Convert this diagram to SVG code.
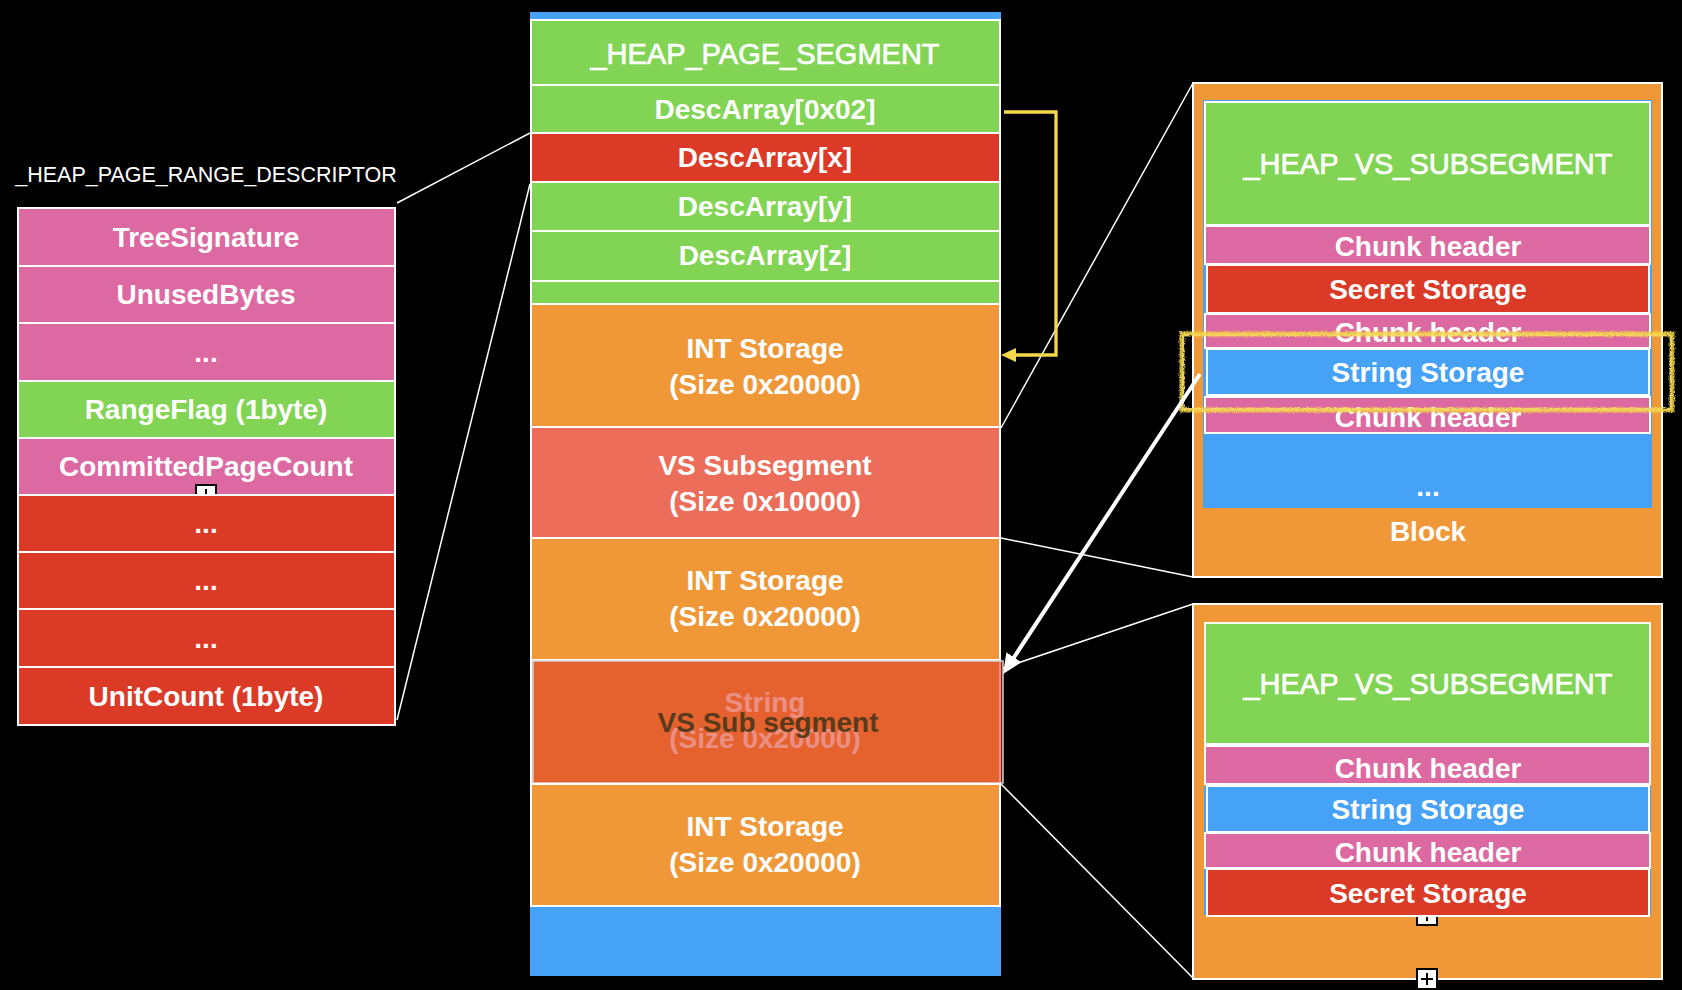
<svg xmlns="http://www.w3.org/2000/svg" width="1682" height="990" viewBox="0 0 1682 990">
<defs>
<style>
.c{stroke:#fff;stroke-width:2}
.g{fill:#82D454}.r{fill:#DB3A27}.p{fill:#DD69A2}.o{fill:#F09838}.b{fill:#46A2F7}.s{fill:#EC6E5A}
.t{font-family:"Liberation Sans",Arial,Helvetica,sans-serif;font-weight:bold;font-size:28px;fill:#fff;text-anchor:middle}
.h{font-family:"Liberation Sans",Arial,Helvetica,sans-serif;font-weight:normal;font-size:29px;fill:#fff;stroke:#fff;stroke-width:0.7;text-anchor:middle}
.ti{font-family:"Liberation Sans",Arial,Helvetica,sans-serif;font-weight:normal;font-size:21.5px;fill:#fff;text-anchor:middle}
.ln{stroke:#fff;stroke-width:1.5;fill:none}
.ic{fill:#fff;stroke:#000;stroke-width:2}
</style>
<marker id="ay" viewBox="0 0 15 14" refX="4" refY="7" markerWidth="15" markerHeight="14" markerUnits="userSpaceOnUse" orient="auto">
<path d="M0,0 L15,7 L0,14 z" fill="#F4D84A"/>
</marker>
<marker id="aw" viewBox="0 0 20 18" refX="8" refY="9" markerWidth="20" markerHeight="18" markerUnits="userSpaceOnUse" orient="auto">
<path d="M0,0 L20,9 L0,18 z" fill="#fff"/>
</marker>
<filter id="rough" x="-5%" y="-30%" width="110%" height="160%">
<feTurbulence type="fractalNoise" baseFrequency="0.7" numOctaves="2" seed="3" result="n"/>
<feDisplacementMap in="SourceGraphic" in2="n" scale="4" xChannelSelector="R" yChannelSelector="G"/>
</filter>
</defs>
<rect x="0" y="0" width="1682" height="990" fill="#000"/>

<g id="range-descriptor">
<text x="206" y="182" class="ti">_HEAP_PAGE_RANGE_DESCRIPTOR</text>
<rect x="18" y="208" width="377" height="517" fill="none" stroke="#fff" stroke-width="2"/>
<rect class="c p" x="18" y="208" width="377" height="58"/>
<text class="t" x="206" y="247">TreeSignature</text>
<rect class="c p" x="18" y="266" width="377" height="57"/>
<text class="t" x="206" y="304">UnusedBytes</text>
<rect class="c p" x="18" y="323" width="377" height="58"/>
<text class="t" x="206" y="362">...</text>
<rect class="c g" x="18" y="381" width="377" height="57"/>
<text class="t" x="206" y="419">RangeFlag (1byte)</text>
<rect class="c p" x="18" y="438" width="377" height="57"/>
<text class="t" x="206" y="476">CommittedPageCount</text>
<rect class="ic" x="196" y="485" width="20" height="18"/>
<line x1="206" y1="489" x2="206" y2="499" stroke="#000" stroke-width="2"/>
<rect class="c r" x="18" y="495" width="377" height="57"/>
<text class="t" x="206" y="533">...</text>
<rect class="c r" x="18" y="552" width="377" height="57"/>
<text class="t" x="206" y="590">...</text>
<rect class="c r" x="18" y="609" width="377" height="58"/>
<text class="t" x="206" y="648">...</text>
<rect class="c r" x="18" y="667" width="377" height="58"/>
<text class="t" x="206" y="706">UnitCount (1byte)</text>
</g>

<g id="page-segment">
<rect class="b" x="530" y="12" width="471" height="964"/>
<rect class="c g" x="531" y="20" width="469" height="65"/>
<text class="h" x="765" y="64">_HEAP_PAGE_SEGMENT</text>
<rect class="c g" x="531" y="85" width="469" height="48"/>
<text class="t" x="765" y="119">DescArray[0x02]</text>
<rect class="c r" x="531" y="133" width="469" height="49"/>
<text class="t" x="765" y="167">DescArray[x]</text>
<rect class="c g" x="531" y="182" width="469" height="49"/>
<text class="t" x="765" y="216">DescArray[y]</text>
<rect class="c g" x="531" y="231" width="469" height="50"/>
<text class="t" x="765" y="265">DescArray[z]</text>
<rect class="c g" x="531" y="281" width="469" height="23"/>
<rect class="c o" x="531" y="304" width="469" height="123"/>
<text class="t" x="765" y="358">INT Storage</text>
<text class="t" x="765" y="394">(Size 0x20000)</text>
<rect class="c s" x="531" y="427" width="469" height="111"/>
<text class="t" x="765" y="475">VS Subsegment</text>
<text class="t" x="765" y="511">(Size 0x10000)</text>
<rect class="c o" x="531" y="538" width="469" height="122"/>
<text class="t" x="765" y="590">INT Storage</text>
<text class="t" x="765" y="626">(Size 0x20000)</text>
<rect class="c o" x="531" y="660" width="469" height="124"/>
<text class="t" x="765" y="712">String</text>
<text class="t" x="765" y="748">(Size 0x20000)</text>
<rect x="533" y="661" width="470" height="122" fill="#DB3A27" fill-opacity="0.57" stroke="#d4d4d4" stroke-width="1.5"/>
<text class="t" x="768" y="732" style="fill:#5A3A1C">VS Sub segment</text>
<rect class="c o" x="531" y="784" width="469" height="122"/>
<text class="t" x="765" y="836">INT Storage</text>
<text class="t" x="765" y="872">(Size 0x20000)</text>
</g>

<g id="vs-subsegment-1">
<rect class="c o" x="1193" y="83" width="469" height="494"/>
<rect class="b" x="1203" y="100" width="449" height="408"/>
<rect class="c g" x="1205" y="102" width="445" height="123"/>
<text class="h" x="1428" y="174">_HEAP_VS_SUBSEGMENT</text>
<rect class="c p" x="1205" y="226" width="445" height="38"/>
<text class="t" x="1428" y="256">Chunk header</text>
<rect class="c r" x="1207" y="265" width="442" height="48"/>
<text class="t" x="1428" y="299">Secret Storage</text>
<rect class="c p" x="1205" y="314" width="445" height="34"/>
<text class="t" x="1428" y="342">Chunk header</text>
<rect class="c b" x="1207" y="349" width="442" height="46"/>
<text class="t" x="1428" y="382">String Storage</text>
<rect class="c p" x="1205" y="397" width="445" height="36"/>
<text class="t" x="1428" y="427">Chunk header</text>
<text class="t" x="1428" y="496">...</text>
<text class="t" x="1428" y="541">Block</text>
</g>

<g id="vs-subsegment-2">
<rect class="c o" x="1193" y="604" width="469" height="375"/>
<rect class="b" x="1204" y="786" width="447" height="129"/>
<rect class="c g" x="1205" y="623" width="445" height="121"/>
<text class="h" x="1428" y="694">_HEAP_VS_SUBSEGMENT</text>
<rect class="c p" x="1205" y="746" width="445" height="38"/>
<text class="t" x="1428" y="778">Chunk header</text>
<rect class="c b" x="1207" y="786" width="442" height="46"/>
<text class="t" x="1428" y="819">String Storage</text>
<rect class="c p" x="1205" y="833" width="445" height="35"/>
<text class="t" x="1428" y="862">Chunk header</text>
<rect class="ic" x="1417" y="905" width="20" height="20"/>
<line x1="1427" y1="909" x2="1427" y2="921" stroke="#000" stroke-width="2"/>
<rect class="c r" x="1207" y="869" width="442" height="47"/>
<text class="t" x="1428" y="903">Secret Storage</text>
<rect class="ic" x="1417" y="969" width="20" height="20"/>
<path d="M1421,979 H1433 M1427,973 V985" stroke="#000" stroke-width="2"/>
</g>

<g id="highlight" filter="url(#rough)">
<rect x="1182" y="334" width="490" height="76" fill="none" stroke="#F2D445" stroke-width="5" stroke-opacity="0.85"/>
<rect x="1183" y="335" width="488" height="74" fill="none" stroke="#F6E06A" stroke-width="2" stroke-opacity="0.6"/>
</g>

<g id="connectors">
<line class="ln" x1="397" y1="203" x2="530" y2="133"/>
<line class="ln" x1="397" y1="720" x2="530" y2="184"/>
<line class="ln" x1="1001" y1="428" x2="1193" y2="83"/>
<line class="ln" x1="1001" y1="538" x2="1193" y2="577"/>
<line class="ln" x1="1003" y1="668" x2="1193" y2="604"/>
<line class="ln" x1="1001" y1="784" x2="1193" y2="978"/>
<path d="M1004,112 H1056 V355 H1012" fill="none" stroke="#F4D84A" stroke-width="3.3" marker-end="url(#ay)"/>
<line x1="1200" y1="374" x2="1009.6" y2="664" stroke="#fff" stroke-width="4" marker-end="url(#aw)"/>
</g>
</svg>
